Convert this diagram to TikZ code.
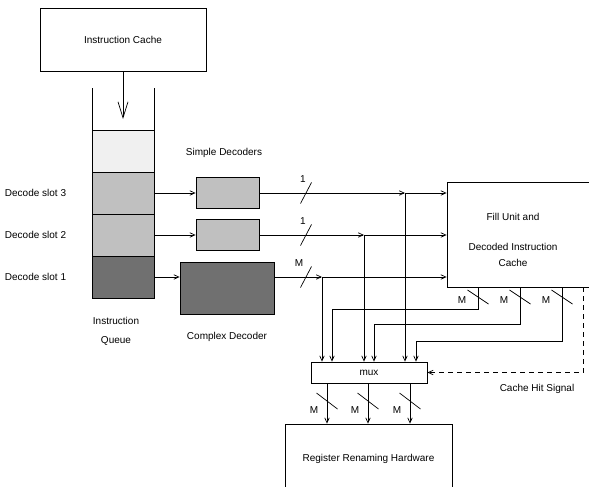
\documentclass[tikz,border=0pt]{standalone}
\usepackage{fontspec}
\setmainfont{Liberation Sans}
\usetikzlibrary{arrows.meta,positioning}
\definecolor{SlotLight}{RGB}{240,240,240}
\definecolor{SlotGray}{RGB}{192,192,192}
\definecolor{SlotDark}{RGB}{112,112,112}

\begin{document}
\begin{tikzpicture}[x=1pt, y=-1pt, font=\fontsize{10}{12}\selectfont,
		box/.style={draw, line width=0.7pt, inner sep=0pt},
		wire/.style={line width=0.7pt},
		sig/.style={line width=0.7pt, -{Straight Barb[length=5pt,width=4.5pt]}}]
		\useasboundingbox (0,0) rectangle (589,487);
		\clip (0,0) rectangle (589,487);
		% instruction cache and queue
		\node[box, minimum width=166pt, minimum height=63pt] (icache) at (123,39.5) {Instruction Cache};
		\draw[wire] (92,88) -- (92,130);
		\draw[wire] (154,88) -- (154,130);
		\node[box, fill=SlotLight, minimum width=62pt, minimum height=42pt] (q4) at (123,151) {};
		\node[box, fill=SlotGray, minimum width=62pt, minimum height=42pt] (q3) at (123,193) {};
		\node[box, fill=SlotGray, minimum width=62pt, minimum height=42pt] (q2) at (123,235) {};
		\node[box, fill=SlotDark, minimum width=62pt, minimum height=42pt] (q1) at (123,277) {};
		\coordinate (qin) at (123,119);
		\draw[wire, -{Straight Barb[length=16pt,width=10pt]}] (icache.south) -- (qin);
		\node[left=22pt of q3] (slot3) {Decode slot 3};
		\node[left=22pt of q2] (slot2) {Decode slot 2};
		\node[left=22pt of q1] (slot1) {Decode slot 1};
		\node[align=center] (qname) at (116,331) {Instruction\\[7pt]Queue};
		% decoders
		\node (sdname) at (224,153) {Simple Decoders};
		\node[box, fill=SlotGray, minimum width=63pt, minimum height=31pt] (sd3) at (227.5,193) {};
		\node[box, fill=SlotGray, minimum width=63pt, minimum height=31pt] (sd2) at (227.5,235) {};
		\node[box, fill=SlotDark, minimum width=94pt, minimum height=52pt] (cd) at (227,288) {};
		\node (cdname) at (227,337) {Complex Decoder};
		\draw[sig] (q3.east) -- (sd3.west);
		\draw[sig] (q2.east) -- (sd2.west);
		\coordinate (b1) at (322,277);
		\draw[sig] (q1.east) -- (q1.east -| cd.west);
		% fill unit, mux, renaming
		\node[box, minimum width=153pt, minimum height=105pt] (fill) at (523.5,234.5) {};
		\node[align=center, font=\fontsize{10}{16}\selectfont] (filltxt) at (513,240) {Fill Unit and\\[14pt]Decoded Instruction\\Cache};
		\node[box, minimum width=116pt, minimum height=21pt] (mux) at (369,372.5) {mux};
		\node[box, minimum width=167pt, minimum height=70pt] (rrh) at (368.5,459) {Register Renaming Hardware};
		% decoder outputs
		\coordinate (b3) at (405,193);
		\coordinate (b2) at (364,235);
		\draw[sig] (sd3.east) -- (b3);
		\draw[sig] (sd2.east) -- (b2);
		\draw[sig] (b1 -| cd.east) -- (b1);
		\draw[sig] (b3) -- (b3 -| fill.west);
		\draw[sig] (b2) -- (b2 -| fill.west);
		\draw[sig] (b1) -- (b1 -| fill.west);
		\draw[sig] (b3) -- (b3 |- mux.north);
		\draw[sig] (b2) -- (b2 |- mux.north);
		\draw[sig] (b1) -- (b1 |- mux.north);
		\draw[wire] (300.5,203.5) -- (311.5,182.5);
		\draw[wire] (300.5,245.5) -- (311.5,224.5);
		\draw[wire] (300.5,287.5) -- (311.5,266.5);
		\node (w3) at (303,179) {1};
		\node (w2) at (303,221) {1};
		\node (w1) at (299,263) {M};
		% decoded cache outputs
		\foreach \x/\y/\c [count=\i] in {478/309/332, 520/324/374, 562/341/416} {
			\coordinate (fo\i) at (\x,287);
			\coordinate (fc\i) at (\c,\y);
			\draw[sig] (fo\i) |- (fc\i) -- (fc\i |- mux.north);
			\draw[wire] (\x-10.5,290) -- (\x+10.5,304);
			\node (fm\i) at (\x-16,300) {M};
		}
		\coordinate (hit) at (583,287);
		\draw[sig, dash pattern=on 5pt off 4pt] (hit) |- (mux.east);
		\node (hitname) at (537,389) {Cache Hit Signal};
		% mux outputs
		\foreach \x [count=\i] in {327,368,410} {
			\coordinate (mo\i) at (\x,383);
			\draw[sig] (mo\i) -- (mo\i |- rrh.north);
			\draw[wire] (\x-10.5,393) -- (\x+10.5,409);
			\node (mm\i) at (\x-13,410) {M};
		}
	\end{tikzpicture}
\end{document}
